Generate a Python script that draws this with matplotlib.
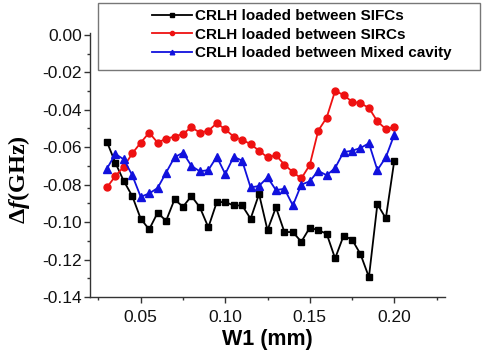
import numpy as np
import matplotlib
matplotlib.use("Agg")
import matplotlib.pyplot as plt
from matplotlib.patches import Rectangle
from matplotlib.ticker import MultipleLocator, FormatStrFormatter

plt.rcParams['font.family'] = 'Liberation Sans'
plt.rcParams['mathtext.fontset'] = 'custom'
plt.rcParams['mathtext.rm'] = 'Liberation Serif:bold'
plt.rcParams['mathtext.it'] = 'Liberation Serif:italic:bold'

# W1 sweep (mm)
w1 = np.round(np.arange(0.03, 0.2001, 0.005), 3)

# frequency shift (GHz) for each loading case
df_sifc = [-0.0571, -0.0683, -0.0781, -0.0861, -0.0982, -0.1039, -0.0950, -0.0993,
           -0.0879, -0.0918, -0.0861, -0.0921, -0.1028, -0.0893, -0.0893, -0.0911,
           -0.0911, -0.0982, -0.0850, -0.1043, -0.0921, -0.1053, -0.1053, -0.1105,
           -0.1030, -0.1043, -0.1062, -0.1194, -0.1073, -0.1093, -0.1171, -0.1294,
           -0.0904, -0.0980, -0.0672]
df_sirc = [-0.0815, -0.0754, -0.0704, -0.0633, -0.0576, -0.0522, -0.0576, -0.0554,
           -0.0544, -0.0528, -0.0494, -0.0522, -0.0512, -0.0472, -0.0504, -0.0544,
           -0.0561, -0.0583, -0.0619, -0.0654, -0.0643, -0.0693, -0.0733, -0.0767,
           -0.0695, -0.0512, -0.0442, -0.0299, -0.0321, -0.0357, -0.0365, -0.0390,
           -0.0462, -0.0503, -0.0492]
df_mixed = [-0.0715, -0.0636, -0.0665, -0.0750, -0.0865, -0.0847, -0.0818, -0.0736,
            -0.0654, -0.0629, -0.0700, -0.0729, -0.0722, -0.0651, -0.0743, -0.0651,
            -0.0672, -0.0815, -0.0807, -0.0761, -0.0829, -0.0822, -0.0911, -0.0800,
            -0.0782, -0.0726, -0.0750, -0.0711, -0.0626, -0.0619, -0.0604, -0.0579,
            -0.0722, -0.0654, -0.0533]

labels = ['CRLH loaded between SIFCs',
          'CRLH loaded between SIRCs',
          'CRLH loaded between Mixed cavity']

W, H = 482, 354
fig = plt.figure(figsize=(W / 100, H / 100), dpi=100)
ax = fig.add_axes([90 / W, 1 - 297 / H, (445 - 90) / W, (297 - 33) / H])

ax.plot(w1, df_sifc, '-s', color='black', lw=1.3, ms=4.5, label=labels[0])
ax.plot(w1, df_sirc, '-o', color='#ee1111', lw=1.3, ms=5, label=labels[1])
ax.plot(w1, df_mixed, '-^', color='#1111dd', lw=1.3, ms=5.5, label=labels[2])

ax.set_xlim(0.02, 0.23)
ax.set_ylim(-0.14, 0.001)
ax.xaxis.set_major_locator(MultipleLocator(0.05))
ax.xaxis.set_minor_locator(MultipleLocator(0.025))
ax.yaxis.set_major_locator(MultipleLocator(0.02))
ax.yaxis.set_minor_locator(MultipleLocator(0.01))
ax.xaxis.set_major_formatter(FormatStrFormatter('%.2f'))
ax.yaxis.set_major_formatter(FormatStrFormatter('%.2f'))

ax.spines['top'].set_visible(False)
ax.spines['right'].set_visible(False)
for s in ('left', 'bottom'):
    ax.spines[s].set_color('#333333')
    ax.spines[s].set_linewidth(1.0)
ax.tick_params(which='both', direction='out', color='#333333', labelsize=12.5,
               labelcolor='#111111')
ax.tick_params(which='major', length=4, width=1)
ax.tick_params(which='minor', length=2.5, width=1)
ax.tick_params(axis='y', pad=2)
ax.tick_params(axis='x', pad=5)

ax.set_xlabel('W1 (mm)', fontsize=15.5, fontweight='bold', labelpad=3)
ax.set_ylabel(r'$\Delta f$(GHz)', fontsize=17.5, fontfamily='Liberation Serif',
              fontweight='bold')
ax.yaxis.set_label_coords(-0.163, 0.443)

leg = fig.legend(loc='upper left', bbox_to_anchor=(152 / W, 1 - 9 / H),
                 frameon=False, prop={'weight': 'bold', 'size': 11},
                 handlelength=2.6, handletextpad=0.2, labelspacing=0.3,
                 markerscale=0.6, borderpad=0, borderaxespad=0)

fig.patches.append(Rectangle((98 / W, 1 - 70 / H), (480 - 98) / W, 67 / H,
                             transform=fig.transFigure, fill=False,
                             edgecolor='#777777', lw=1.0))

fig.savefig('out.png', dpi=100)
